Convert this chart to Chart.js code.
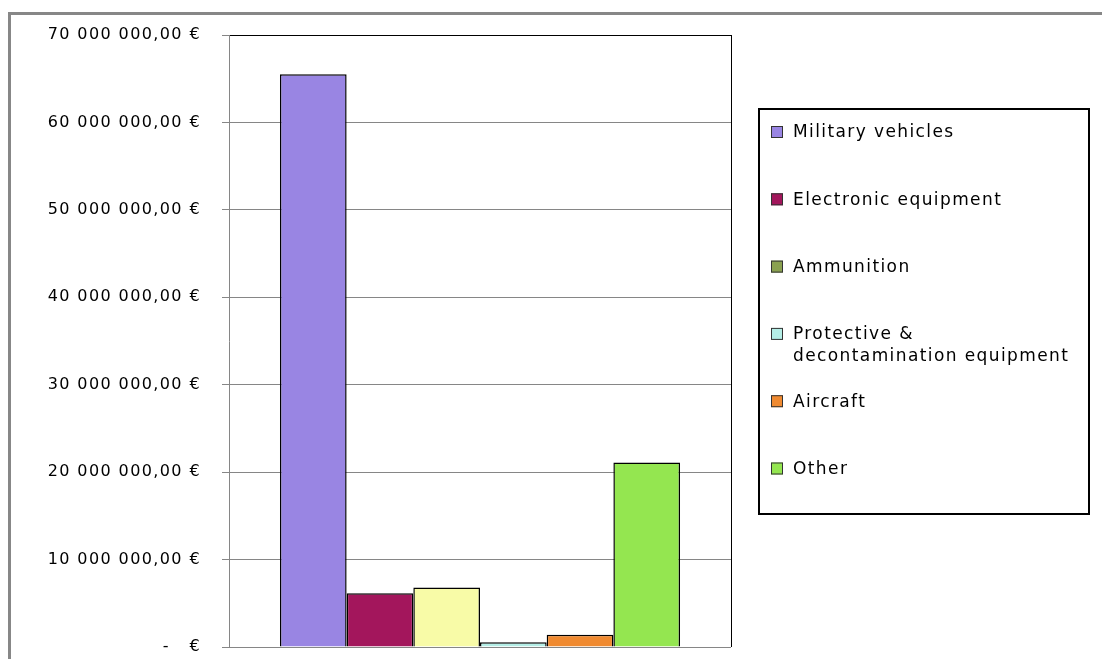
<!DOCTYPE html>
<html>
<head>
<meta charset="utf-8">
<script src="https://cdn.jsdelivr.net/npm/chart.js@4"></script>
<style>
  html, body { margin: 0; padding: 0; background: #fff; }
  canvas { display: block; }
</style>
</head>
<body>
<canvas id="myChart" width="1102" height="659"></canvas>
<script>
// data
const categories = ["Exports"];
const seriesLabels = ["Military vehicles", "Electronic equipment", "Ammunition",
  "Protective & decontamination equipment", "Aircraft", "Other"];
const seriesValues = [65500000, 6150000, 6800000, 540000, 1400000, 21100000];
const yTicks = [0, 10000000, 20000000, 30000000, 40000000, 50000000, 60000000, 70000000];

// colours
const barColors = ["#9985E3", "#A3165C", "#F8FBA7", "#B4EEE6", "#F08A30", "#94E650"];
const legendColors = ["#9985E3", "#A3165C", "#8AA150", "#B4EEE6", "#F08A30", "#94E650"];

const SPACING = "1.4px";

function euro(v) {
  if (v === 0) return "-   €";
  return String(Math.round(v)).replace(/\B(?=(\d{3})+(?!\d))/g, " ") + ",00 €";
}

// letter spacing has to be set again after every canvas reset
const spacingPlugin = {
  id: "spacing",
  beforeUpdate(chart) { chart.ctx.letterSpacing = SPACING; },
  beforeDraw(chart) { chart.ctx.letterSpacing = SPACING; }
};

// grey frame at top / left and the black right edge of the plot
const framePlugin = {
  id: "frame",
  beforeDraw(chart) {
    const c = chart.ctx;
    c.save();
    c.fillStyle = "#878787";
    c.fillRect(8, 12, 3, 659);
    c.fillRect(8, 12, 1102, 3);
    c.restore();
  },
  afterDraw(chart) {
    const c = chart.ctx;
    const a = chart.chartArea;
    c.save();
    c.strokeStyle = "#000";
    c.lineWidth = 1;
    c.beginPath();
    c.moveTo(Math.round(a.right) + 0.5, a.top);
    c.lineTo(Math.round(a.right) + 0.5, a.bottom);
    c.stroke();
    c.restore();
  }
};

// Excel style legend in a box
const boxLegend = {
  id: "boxLegend",
  afterDraw(chart) {
    const c = chart.ctx;
    c.save();
    c.letterSpacing = SPACING;
    c.strokeStyle = "#000";
    c.lineWidth = 2;
    c.strokeRect(759, 109, 330, 405);
    c.font = "17px 'DejaVu Sans'";
    c.textBaseline = "middle";
    chart.data.datasets.forEach((ds, i) => {
      const y = 132 + i * 67.3;
      c.fillStyle = legendColors[i];
      c.fillRect(771, y - 6, 12, 12);
      c.strokeStyle = "#333";
      c.lineWidth = 1;
      c.strokeRect(771.5, y - 5.5, 11, 11);
      // simple word wrap
      const words = ds.label.split(" ");
      let lines = [], line = "";
      words.forEach((w) => {
        const t = line ? line + " " + w : w;
        if (c.measureText(t).width > 292 && line) {
          lines.push(line);
          line = w;
        } else {
          line = t;
        }
      });
      lines.push(line);
      c.fillStyle = "#000";
      lines.forEach((l, j) => c.fillText(l, 793, y + 1 + j * 22));
    });
    c.restore();
  }
};

const datasets = seriesLabels.map((label, i) => ({
  label: label,
  data: [seriesValues[i]],
  backgroundColor: barColors[i],
  borderColor: "#000",
  borderWidth: 1.5,
  barPercentage: 1,
  categoryPercentage: 0.797
}));

const ctx = document.getElementById("myChart");

new Chart(ctx, {
  type: "bar",
  data: { labels: categories, datasets: datasets },
  plugins: [spacingPlugin, framePlugin, boxLegend],
  options: {
    responsive: false,
    animation: false,
    devicePixelRatio: 1,
    layout: { padding: { top: 35, bottom: 12, left: 0, right: 371 } },
    plugins: {
      legend: { display: false },
      tooltip: { enabled: false },
      title: { display: false }
    },
    scales: {
      x: { display: false },
      y: {
        min: 0,
        max: 70000000,
        afterFit(scale) {
          scale.width = 229;
          scale.paddingTop = 0;
          scale.paddingBottom = 0;
        },
        afterBuildTicks(scale) { scale.ticks = yTicks.map((v) => ({ value: v })); },
        border: { display: true, color: "#868686", width: 1 },
        grid: {
          color: (c) => (c.tick && c.tick.value === 70000000 ? "#000" : "#868686"),
          tickColor: "#868686",
          tickLength: 7,
          lineWidth: 1
        },
        ticks: {
          padding: 21,
          color: "#000",
          font: { family: "'DejaVu Sans'", size: 16 },
          callback: (v) => euro(v)
        }
      }
    }
  }
});
</script>
</body>
</html>
